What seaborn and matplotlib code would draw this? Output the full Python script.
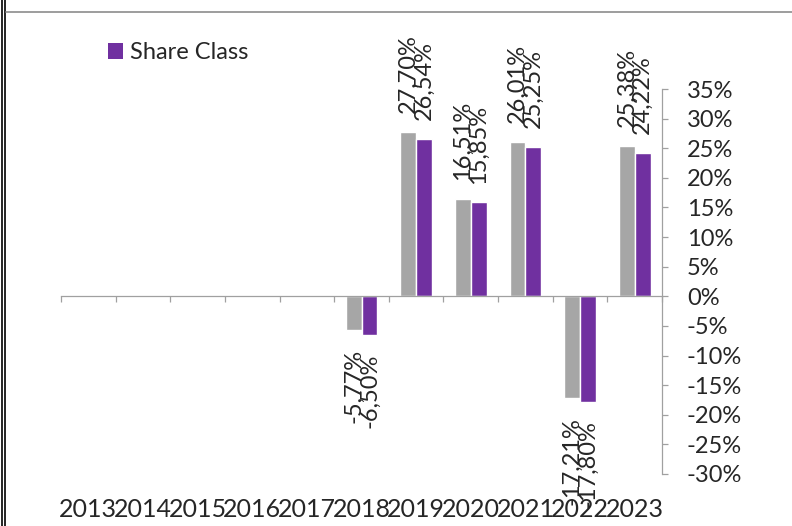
import numpy as np
import pandas as pd
import matplotlib
matplotlib.use('Agg')
import matplotlib.pyplot as plt
import seaborn as sns
from matplotlib.lines import Line2D
from matplotlib.patches import Patch

# datos del gráfico (rentabilidad anual, en %)
years = ['2013', '2014', '2015', '2016', '2017', '2018', '2019', '2020', '2021', '2022', '2023']
data_years = ['2018', '2019', '2020', '2021', '2022', '2023']
benchmark = [-5.77, 27.70, 16.51, 26.01, -17.21, 25.38]
share_class = [-6.50, 26.54, 15.85, 25.25, -17.80, 24.22]
series_names = ['Benchmark', 'Share Class']
y_ticks = list(range(-30, 40, 5))

GRAY = '#A6A6A6'
PURPLE = '#7030A0'
AXIS = '#A0A0A0'

sns.set_style('white')
plt.rcParams['font.family'] = ['Lato', 'DejaVu Sans']
plt.rcParams['axes.unicode_minus'] = False

df = pd.DataFrame({
    'year': data_years * 2,
    'value': benchmark + share_class,
    'serie': [series_names[0]] * len(benchmark) + [series_names[1]] * len(share_class),
})

fig = plt.figure(figsize=(7.92, 5.26), dpi=100)
ax = fig.add_axes([61 / 792, 52 / 526, 601 / 792, 385 / 526])

sns.barplot(data=df, x='year', y='value', hue='serie', order=years,
            hue_order=series_names, palette={series_names[0]: GRAY, series_names[1]: PURPLE},
            width=0.58, errorbar=None, ax=ax, legend=False, saturation=1)

# etiquetas de valores (coma decimal)
for cont in ax.containers:
    ax.bar_label(cont, fmt=lambda v: f'{v:.2f}%'.replace('.', ','),
                 rotation=90, padding=13.5, fontsize=17)

ax.set_xlim(-0.5, 10.5)
ax.set_ylim(-30, 35)
ax.set_xlabel('')
ax.set_ylabel('')

# eje x en el cero, etiquetas abajo
ax.spines['bottom'].set_position(('data', 0))
ax.spines['bottom'].set_color(AXIS)
ax.spines['bottom'].set_linewidth(0.9)
ax.spines['top'].set_visible(False)
ax.spines['left'].set_visible(False)
ax.spines['right'].set_color(AXIS)
ax.spines['right'].set_linewidth(0.9)

ax.set_xticks(range(len(years)))
ax.set_xticklabels(years)
ax.set_xticks(np.arange(-0.5, len(years)), minor=True)
ax.tick_params(axis='x', which='major', length=0, pad=145, labelsize=18)
ax.tick_params(axis='x', which='minor', direction='out', length=4.5, width=0.9, color=AXIS, bottom=True)

ax.yaxis.tick_right()
ax.set_yticks(y_ticks)
ax.set_yticklabels([f'{t}%' for t in y_ticks])
ax.tick_params(axis='y', direction='out', length=4.5, width=0.9, color=AXIS, pad=13.5, labelsize=17)

# leyenda (solo Share Class)
handle = Patch(facecolor=PURPLE, edgecolor='none')
fig.legend([handle], [series_names[1]], loc='upper left', bbox_to_anchor=(108 / 792, 1 - 42 / 526),
           frameon=False, fontsize=17, handlelength=0.65, handleheight=0.65, handletextpad=0.3,
           borderpad=0, borderaxespad=0)

# marco del área del gráfico
fig.add_artist(Line2D([1.5 / 792, 1.5 / 792], [0, 1], color='black', lw=1.2))
fig.add_artist(Line2D([5 / 792, 5 / 792], [0, 1], color='black', lw=1.2))
fig.add_artist(Line2D([6 / 792, 1], [1 - 11.5 / 526, 1 - 11.5 / 526], color='#8C8C8C', lw=1.2))

fig.savefig('out.png', dpi=100)
